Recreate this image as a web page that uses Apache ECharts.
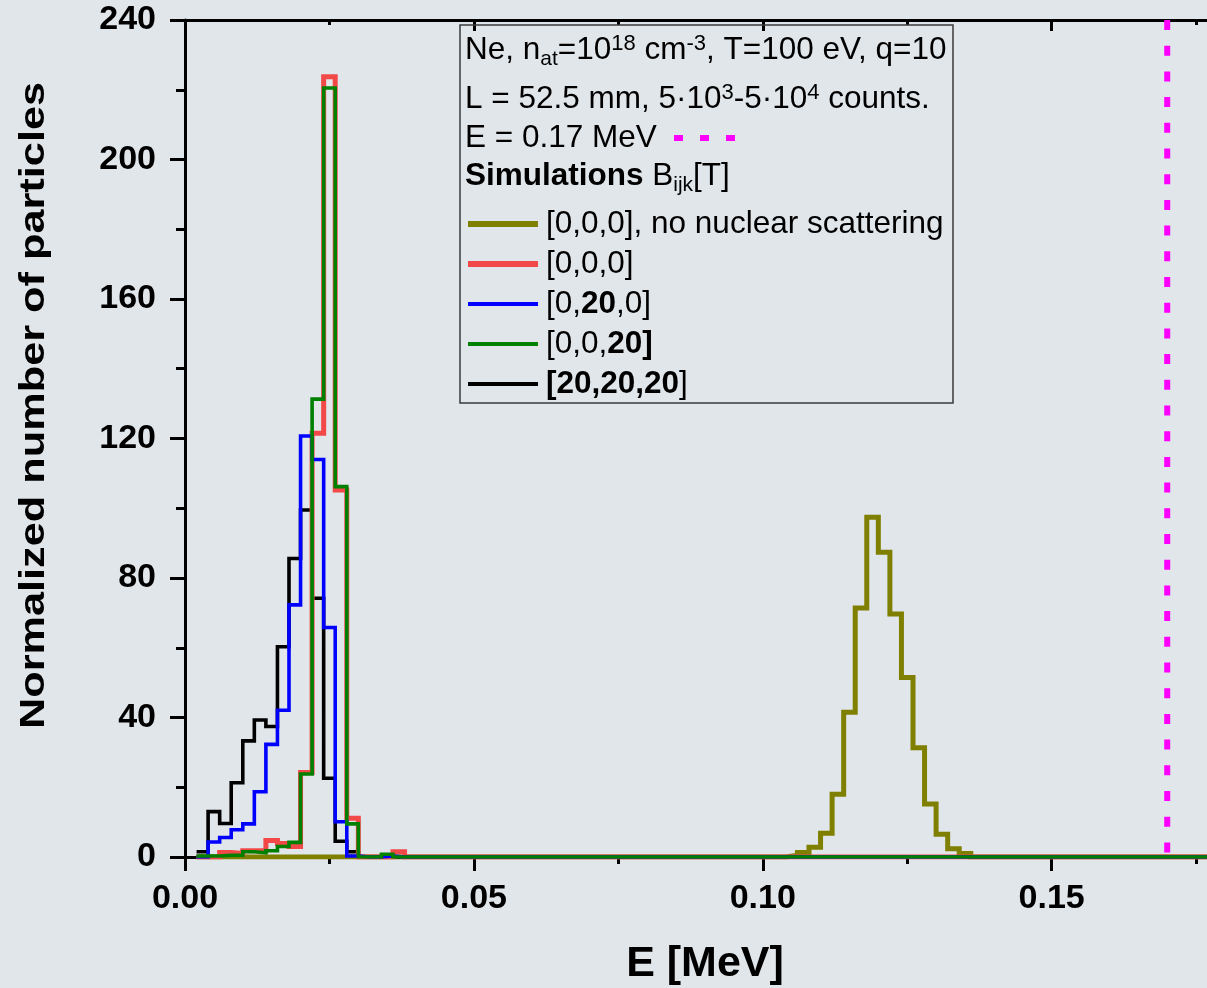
<!DOCTYPE html>
<html><head><meta charset="utf-8">
<script src="https://cdn.jsdelivr.net/npm/echarts@6/dist/echarts.min.js"></script>
<style>html,body{margin:0;padding:0;background:#e1e6ea;} #c{width:1207px;height:988px;}</style>
</head><body><div id="c"></div>
<script>
// ---- data ----
const binWidth = 0.002;          // MeV
const lowStart = 0.002;          // lower edge of first low-energy bin
const blackCounts = [1.5, 13, 9.6, 21.3, 33.3, 39.3, 37.4, 60.3, 85.6, 99.5, 74.2, 22.6, 4.5, 1.5, 0, 0, 0, 0, 0];
const blueCounts  = [0, 4.3, 5.6, 7.8, 9.5, 18.7, 32.3, 42.1, 72.3, 120.7, 114, 65.8, 10.1, 0.3, 0, 0, 0.3, 0, 0];
const redCounts   = [0, 0, 1.3, 1, 1.8, 1.8, 4.7, 3.9, 3, 24.2, 121.5, 223.7, 105.2, 11.1, 0, 0, 0, 1.5, 0];
const greenCounts = [0.3, 0.3, 0.5, 0.5, 1.5, 1.2, 1.8, 3, 4.2, 23.8, 131.3, 220.5, 106.2, 9.5, 0, 0, 0.8, 0, 0];
const oliveStart = 0.104;
const oliveCounts = [0.5, 1.3, 2.8, 6.8, 18, 41.5, 71.4, 97.4, 87.4, 69.7, 51.5, 31.3, 15.2, 6.5, 2.4, 1.0, 0];
const xMin = 0, xMax = 0.18, xInterval = 0.05;
const yMin = 0, yMax = 240, yInterval = 40;
const refEnergy = 0.17;
const seriesNames = ['[0,0,0], no nuclear scattering', '[0,0,0]', '[0,20,0]', '[0,0,20]', '[20,20,20]'];
const legendRich = {
  '[0,0,0], no nuclear scattering': '[0,0,0], no nuclear scattering',
  '[0,0,0]': '[0,0,0]',
  '[0,20,0]': '[0,{b|20},0]',
  '[0,0,20]': '[0,0,{b|20]}',
  '[20,20,20]': '{b|[20,20,20}]'
};
const yTitle = 'Normalized number of particles';
const xTitle = 'E [MeV]';

// ---- build step outlines ----
function stepData(start, counts) {
  const pts = [];
  if (start > lowStart + 1e-9) pts.push([lowStart, 0]);
  counts.forEach((v, i) => pts.push([+(start + i * binWidth).toFixed(4), v]));
  pts.push([+(start + counts.length * binWidth).toFixed(4), 0]);
  pts.push([xMax, 0]);
  return pts;
}

const FF = '"Liberation Sans", Arial, sans-serif';
const FS = 31.5;
const chart = echarts.init(document.getElementById('c'), null, {renderer: 'canvas'});

function histSeries(name, data, color, width) {
  return {
    name, type: 'line', step: 'end', data, symbol: 'none', silent: true,
    lineStyle: {color, width, join: 'miter', cap: 'butt'},
    itemStyle: {color}, animation: false
  };
}

const rich = {
  m:   {fontSize: FS, lineHeight: 40, fontFamily: FF, fill: '#000'},
  mb:  {fontSize: FS, lineHeight: 40, fontFamily: FF, fontWeight: 'bold', fill: '#000'},
  sup: {fontSize: 22, lineHeight: 22, fontFamily: FF, verticalAlign: 'top', padding: [3, 0, 0, 0], fill: '#000'},
  sub: {fontSize: 21, lineHeight: 21, fontFamily: FF, verticalAlign: 'bottom', fill: '#000'}
};
function header(text, top) {
  return {type: 'text', x: 465, y: top, z: 10,
    style: {text, rich, align: 'left', verticalAlign: 'top', fill: '#000', fontSize: FS, fontFamily: FF}};
}

const option = {
  backgroundColor: '#e1e6ea',
  animation: false,
  grid: {left: 185, top: 20, width: 1040, height: 837, containLabel: false, outerBoundsMode: 'none'},
  xAxis: [{
    type: 'value', min: xMin, max: xMax, interval: xInterval, position: 'bottom',
    axisLine: {show: true, onZero: false, lineStyle: {color: '#000', width: 3}},
    axisTick: {show: true, inside: false, length: 14, lineStyle: {color: '#000', width: 3}},
    minorTick: {show: true, splitNumber: 2, length: 7, lineStyle: {color: '#000', width: 3}},
    splitLine: {show: false},
    axisLabel: {show: true, margin: 25, fontSize: 34, fontWeight: 'bold', fontFamily: FF, color: '#000',
      showMaxLabel: false, formatter: v => v.toFixed(2)},
    name: xTitle, nameLocation: 'middle', nameGap: 86,
    nameTextStyle: {fontSize: 43, fontWeight: 'bold', fontFamily: FF, color: '#000'}
  }, {
    type: 'value', min: xMin, max: xMax, interval: xInterval, position: 'top',
    axisLine: {show: true, onZero: false, lineStyle: {color: '#000', width: 3}},
    axisTick: {show: true, inside: true, length: 11, lineStyle: {color: '#000', width: 3}},
    minorTick: {show: true, splitNumber: 2, length: 5, lineStyle: {color: '#000', width: 3}},
    splitLine: {show: false}, axisLabel: {show: false}
  }],
  yAxis: {
    type: 'value', min: yMin, max: yMax, interval: yInterval,
    axisLine: {show: true, lineStyle: {color: '#000', width: 3}},
    axisTick: {show: true, inside: false, length: 15, lineStyle: {color: '#000', width: 3}},
    minorTick: {show: true, splitNumber: 2, length: 9, lineStyle: {color: '#000', width: 3}},
    splitLine: {show: false},
    axisLabel: {margin: 29, fontSize: 34, fontWeight: 'bold', fontFamily: FF, color: '#000'}
  },
  legend: {
    left: 465, top: 208, orient: 'vertical', padding: 0, itemWidth: 70, itemHeight: 2, itemGap: 8,
    selectedMode: false, itemStyle: {opacity: 0, borderWidth: 0},
    data: [
      {name: seriesNames[0], lineStyle: {width: 6}},
      {name: seriesNames[1], lineStyle: {width: 6}},
      {name: seriesNames[2], lineStyle: {width: 4}},
      {name: seriesNames[3], lineStyle: {width: 4}},
      {name: seriesNames[4], lineStyle: {width: 4}}
    ],
    formatter: n => legendRich[n],
    textStyle: {fontSize: FS, fontFamily: FF, color: '#000', lineHeight: 31.4, padding: [0, 0, 0, 3],
      rich: {b: {fontSize: FS, fontFamily: FF, fontWeight: 'bold', color: '#000', lineHeight: 31.4}}}
  },
  series: [
    histSeries(seriesNames[0], stepData(oliveStart, oliveCounts), '#808000', 5),
    histSeries(seriesNames[4], stepData(lowStart, blackCounts), '#000000', 3.6),
    histSeries(seriesNames[1], stepData(lowStart, redCounts), '#f24848', 5),
    histSeries(seriesNames[2], stepData(lowStart, blueCounts), '#0000ff', 3.6),
    histSeries(seriesNames[3], stepData(lowStart, greenCounts), '#008000', 3.6),
    {
      name: 'E = 0.17 MeV', type: 'line', data: [[refEnergy, yMax], [refEnergy, yMin]], symbol: 'none', silent: true,
      lineStyle: {color: '#ff00ff', width: 6, type: [10, 15.7], cap: 'butt'}, z: 3
    }
  ],
  graphic: [
    {type: 'rect', shape: {x: 460, y: 25, width: 493, height: 378}, z: 1,
      style: {fill: 'rgba(0,0,0,0)', stroke: '#3a3a3a', lineWidth: 1.5}},
    header('{m|Ne, n}{sub|at}{m|=10}{sup|18}{m| cm}{sup|-3}{m|, T=100 eV, q=10}', 30),
    header('{m|L = 52.5 mm, 5·10}{sup|3}{m|-5·10}{sup|4}{m| counts.}', 79),
    header('{m|E = 0.17 MeV}', 118),
    header('{mb|Simulations}{m| B}{sub|ijk}{m|[T]}', 156),
    {type: 'line', shape: {x1: 674, y1: 138, x2: 736, y2: 138}, z: 10,
      style: {stroke: '#ff00ff', lineWidth: 6, lineDash: [9, 17]}},
    {type: 'text', x: 34.5, y: 405.5, rotation: Math.PI / 2, scaleX: 1.237, z: 10,
      style: {text: yTitle, fontSize: 35, fontWeight: 'bold', fontFamily: FF, fill: '#000',
        align: 'center', verticalAlign: 'middle'}}
  ]
};
chart.setOption(option);
</script></body></html>
